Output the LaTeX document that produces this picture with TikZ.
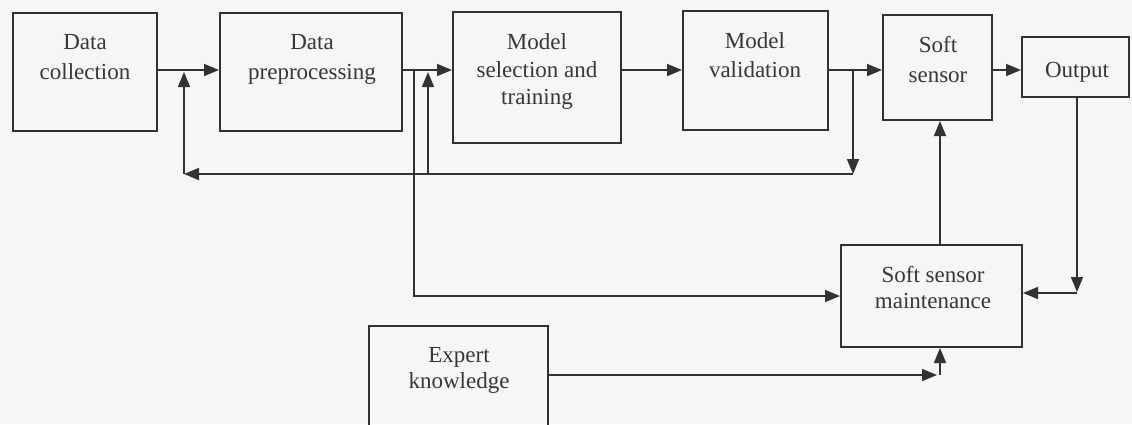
\documentclass[tikz,border=0pt]{standalone}
\usepackage{fontspec}
\setmainfont{Liberation Serif}
\usetikzlibrary{arrows.meta}
\definecolor{bg}{RGB}{246,246,248}
\definecolor{ink}{RGB}{50,50,52}
\definecolor{txt}{RGB}{55,55,58}
\begin{document}
\begin{tikzpicture}[x=1pt,y=-1pt,
  box/.style={draw=ink,line width=2pt,inner sep=0pt,rectangle},
  lbl/.style={anchor=base,inner sep=0pt,text=txt,font=\fontsize{23}{28}\selectfont},
  arr/.style={draw=ink,line width=1.6pt,-{Triangle[length=15pt,width=12pt]}}]
\clip (0,0) rectangle (1132,424);
\fill[bg] (0,0) rectangle (1132,424);
% boxes
\node[box,minimum width=144,minimum height=118] (dc) at (85,72) {};
\node[box,minimum width=182,minimum height=118] (dp) at (311,72) {};
\node[box,minimum width=168,minimum height=131] (ms) at (537,77.5) {};
\node[box,minimum width=145,minimum height=119] (mv) at (755.5,70.5) {};
\node[box,minimum width=109,minimum height=105] (ss) at (937.5,67.5) {};
\node[box,minimum width=107,minimum height=60] (out) at (1075.5,67) {};
\node[box,minimum width=181,minimum height=102] (ssm) at (931.5,296) {};
\node[box,minimum width=179,minimum height=114] (ek) at (458.5,383) {};
% labels
\node[lbl] (dc1) at (85,49) {Data};
\node[lbl] (dc2) at (85,79) {collection};
\node[lbl] (dp1) at (312,49) {Data};
\node[lbl] (dp2) at (312,79) {preprocessing};
\node[lbl] (ms1) at (537,49) {Model};
\node[lbl] (ms2) at (537,77) {selection and};
\node[lbl] (ms3) at (537,104) {training};
\node[lbl] (mv1) at (755,48) {Model};
\node[lbl] (mv2) at (755,77) {validation};
\node[lbl] (ss1) at (938,52) {Soft};
\node[lbl] (ss2) at (938,82) {sensor};
\node[lbl] (out1) at (1077,77) {Output};
\node[lbl] (ssm1) at (933,282) {Soft sensor};
\node[lbl] (ssm2) at (933,308) {maintenance};
\node[lbl] (ek1) at (459,362) {Expert};
\node[lbl] (ek2) at (459,388) {knowledge};
% coordinates
\coordinate (row) at (0,70);
\coordinate (fb1) at (853,70);
\coordinate (fb2) at (853,174);
\coordinate (fb3) at (184,174);
\coordinate (fb4) at (184,72);
\coordinate (br1) at (428,174);
\coordinate (br2) at (428,72);
\coordinate (dn1) at (414,70);
\coordinate (ex1) at (937,375);
\coordinate (ex2) at (940,375);
\coordinate (mx) at (940,0);
\coordinate (oc1) at (1077,292);
\coordinate (oc2) at (1077,293);
% main row
\draw[arr] (dc.east |- row) -- (dp.west |- row);
\draw[arr] (dp.east |- row) -- (ms.west |- row);
\draw[arr] (ms.east |- row) -- (mv.west |- row);
\draw[arr] (mv.east |- row) -- (ss.west |- row);
\draw[arr] (ss.east |- row) -- (out.west |- row);
% feedback loop
\draw[arr] (fb1) -- (fb2);
\draw[arr] (fb2) -- (fb3);
\draw[arr] (fb3) -- (fb4);
\draw[arr] (br1) -- (br2);
% to maintenance
\draw[arr] (dn1) |- (ssm.west);
\draw[arr] (ek.east |- ex1) -- (ex1);
\draw[arr] (ex2) -- (ex2 |- ssm.south);
\draw[arr] (out.south -| oc1) -- (oc1);
\draw[arr] (oc2) -- (ssm.east |- oc2);
\draw[arr] (ssm.north -| mx) -- (ss.south -| mx);
\end{tikzpicture}
\end{document}
